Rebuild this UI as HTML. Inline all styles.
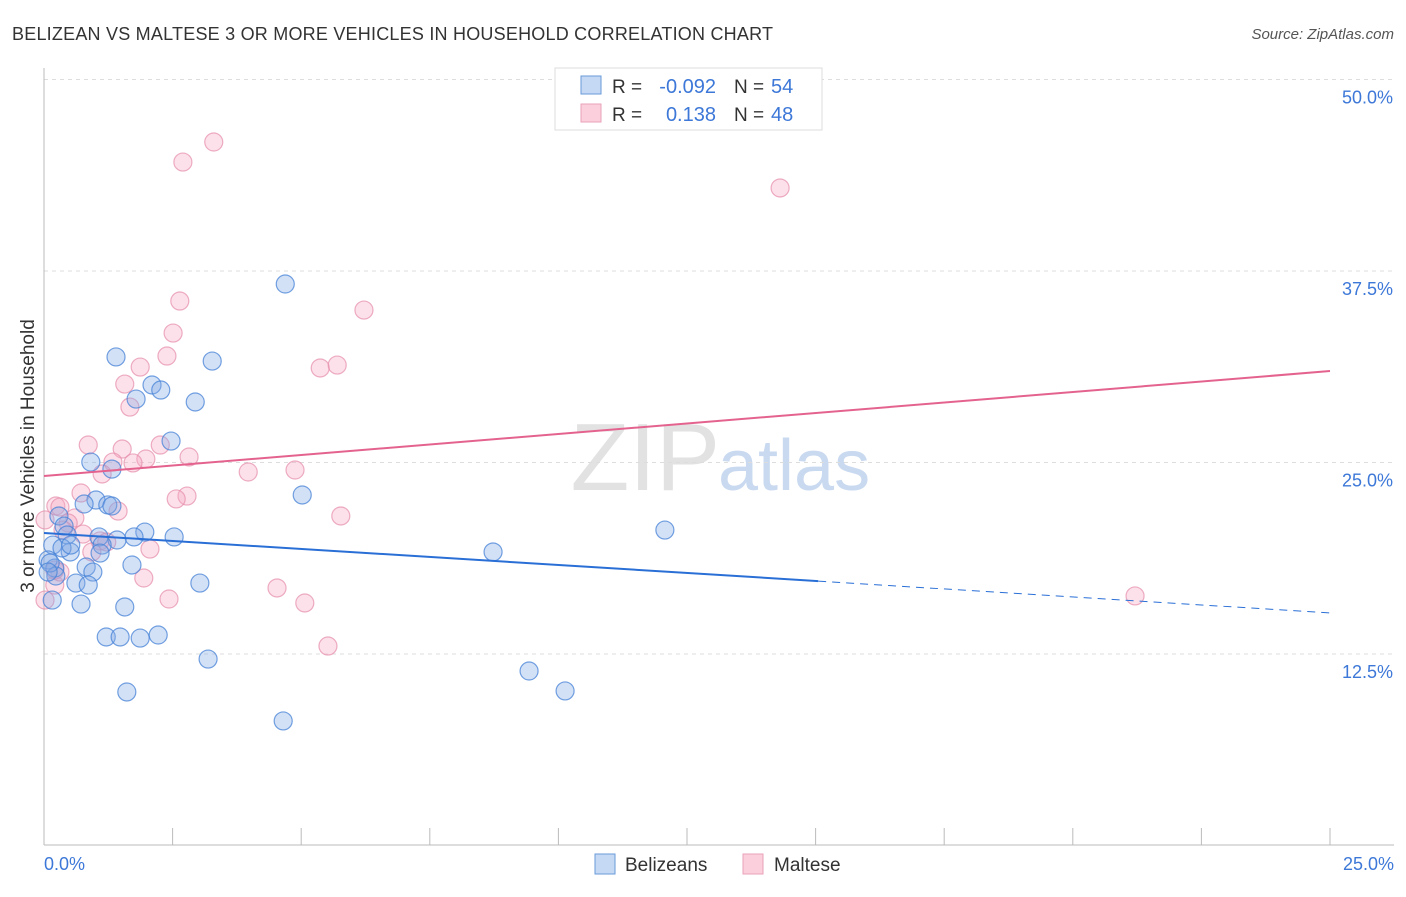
<!DOCTYPE html>
<html><head><meta charset="utf-8"><style>
body{margin:0;background:#fff;font-family:"Liberation Sans",sans-serif}
svg text{font-family:"Liberation Sans",sans-serif}
</style></head><body>
<svg id="c" width="1406" height="892">
<text x="12" y="40" font-size="18" fill="#333" textLength="761">BELIZEAN VS MALTESE 3 OR MORE VEHICLES IN HOUSEHOLD CORRELATION CHART</text>
<text x="1394" y="39" font-size="15" fill="#555" text-anchor="end" font-style="italic">Source: ZipAtlas.com</text>
<text x="720" y="490" font-size="96" fill="#e2e2e2" text-anchor="end" font-family="Liberation Serif">ZIP</text>
<text x="718" y="490" font-size="72" fill="#c9d9f0">atlas</text>
<g id="grid"></g>
<g id="pts"></g>
<g id="trend"></g>
<text transform="translate(34,456) rotate(-90)" font-size="19" fill="#333" text-anchor="middle">3 or more Vehicles in Household</text>
<text x="44" y="870" font-size="18" fill="#3d78d8">0.0%</text>
<text x="1394" y="870" font-size="18" fill="#3d78d8" text-anchor="end">25.0%</text>
<g>
<rect x="555" y="68" width="267" height="62" fill="#fff" stroke="#ddd"/>
<rect x="581" y="76" width="20" height="18" fill="#c5d9f5" stroke="#6a9ad9"/>
<rect x="581" y="104" width="20" height="18" fill="#fbd0dc" stroke="#eaa2b8"/>
<text x="612" y="93" font-size="19" fill="#333">R =</text>
<text x="716" y="93" font-size="20" fill="#3d78d8" text-anchor="end">-0.092</text>
<text x="734" y="93" font-size="19" fill="#333">N =</text>
<text x="771" y="93" font-size="20" fill="#3d78d8">54</text>
<text x="612" y="121" font-size="19" fill="#333">R =</text>
<text x="716" y="121" font-size="20" fill="#3d78d8" text-anchor="end">0.138</text>
<text x="734" y="121" font-size="19" fill="#333">N =</text>
<text x="771" y="121" font-size="20" fill="#3d78d8">48</text>
</g>
<g>
<rect x="595" y="854" width="20" height="20" fill="#c5d9f5" stroke="#6a9ad9"/>
<text x="625" y="871" font-size="19" fill="#333">Belizeans</text>
<rect x="743" y="854" width="20" height="20" fill="#fbd0dc" stroke="#eaa2b8"/>
<text x="774" y="871" font-size="19" fill="#333">Maltese</text>
</g>
</svg>
<script>
const yTicks=[12.5,25,37.5,50];
const yTickLabels=["12.5%","25.0%","37.5%","50.0%"];
const blueX=[4.69,1.40,3.27,2.10,2.27,1.79,2.94,2.47,0.91,1.32,5.02,1.01,0.78,1.24,1.32,0.29,0.39,1.96,2.53,1.75,1.42,1.07,1.13,0.45,0.17,0.08,0.51,0.35,1.09,8.73,12.07,0.21,0.82,1.71,0.95,0.62,0.86,3.03,0.23,0.16,0.72,1.57,1.21,1.48,1.87,2.22,3.19,9.43,10.13,1.61,4.65,0.12,0.08,0.52];
const blueY=[36.65,31.89,31.62,30.06,29.73,29.14,28.95,26.40,25.03,24.57,22.88,22.55,22.29,22.23,22.16,21.51,20.85,20.46,20.14,20.14,19.94,20.14,19.61,20.27,19.61,18.64,19.16,19.42,19.09,19.16,20.59,18.11,18.18,18.31,17.85,17.13,17.00,17.13,17.59,16.02,15.76,15.57,13.61,13.61,13.54,13.74,12.17,11.39,10.09,10.02,8.13,18.44,17.85,19.61];
const pinkX=[3.30,2.70,14.31,2.64,6.22,2.51,2.39,5.37,5.70,1.87,1.57,1.67,0.86,2.26,1.52,2.82,1.98,1.34,1.73,1.13,3.97,4.88,0.72,2.78,2.57,0.23,0.31,1.44,0.60,5.77,0.47,0.37,0.76,1.09,1.22,2.06,0.93,1.94,0.21,2.43,4.53,5.07,5.52,21.21,0.02,0.31,0.02,0.21];
const pinkY=[45.92,44.61,42.92,35.54,34.95,33.45,31.95,31.17,31.36,31.23,30.12,28.62,26.14,26.14,25.88,25.36,25.23,25.03,24.97,24.25,24.38,24.51,23.01,22.81,22.62,22.16,22.09,21.83,21.38,21.51,21.05,20.59,20.33,19.88,19.81,19.35,19.16,17.46,17.00,16.09,16.81,15.83,13.02,16.29,21.25,17.85,16.02,17.98];
const blueTrend=[20.4,15.18];
const pinkTrend=[24.12,30.97];
const NS='http://www.w3.org/2000/svg';
const X=v=>44+v/25*1286;
const Y=v=>654-(v-12.5)*15.32;
function mk(t,a,p){const e=document.createElementNS(NS,t);for(const k in a)e.setAttribute(k,a[k]);p.appendChild(e);return e;}
const grid=document.getElementById('grid');
yTicks.forEach((t,i)=>{
 const l=mk('line',{x1:44,x2:1394,y1:Y(t),y2:Y(t),stroke:'#ddd','stroke-dasharray':'4,4'},grid);
 
 
 const tx=mk('text',{x:1393,y:Y(t)+24,'font-size':18,fill:'#3d78d8','text-anchor':'end'},grid);
 tx.textContent=yTickLabels[i];
 
 
});
const ax=mk('line',{x1:44,x2:1394,y1:845,y2:845,stroke:'#bbb'},grid);


const ay=mk('line',{x1:44,x2:44,y1:68,y2:845,stroke:'#bbb'},grid);


for(let i=0;i<=10;i++){const t=mk('line',{x1:X(i*2.5),x2:X(i*2.5),y1:828,y2:845,stroke:'#bbb'},grid);
 
 }
const pts=document.getElementById('pts');
pinkX.forEach((x,i)=>{const c=mk('circle',{cx:X(x),cy:Y(pinkY[i]),r:9,fill:'rgba(245,170,195,0.35)',stroke:'rgba(230,140,170,0.7)','stroke-width':1.2},pts);
 
 });
blueX.forEach((x,i)=>{const c=mk('circle',{cx:X(x),cy:Y(blueY[i]),r:9,fill:'rgba(130,170,230,0.35)',stroke:'rgba(70,130,215,0.75)','stroke-width':1.2},pts);
 
 });
const tr=document.getElementById('trend');
const by=x=>blueTrend[0]+(blueTrend[1]-blueTrend[0])*x/25;
const b1=mk('line',{x1:X(0),y1:Y(by(0)),x2:X(15.05),y2:Y(by(15.05)),stroke:'#2a6fd6','stroke-width':2},tr);


const b2=mk('line',{x1:X(15.05),y1:Y(by(15.05)),x2:X(25),y2:Y(by(25)),stroke:'#2a6fd6','stroke-width':1,'stroke-dasharray':'8,6'},tr);


const p1=mk('line',{x1:X(0),y1:Y(pinkTrend[0]),x2:X(25),y2:Y(pinkTrend[1]),stroke:'#e4638e','stroke-width':2},tr);


</script>
</body></html>
